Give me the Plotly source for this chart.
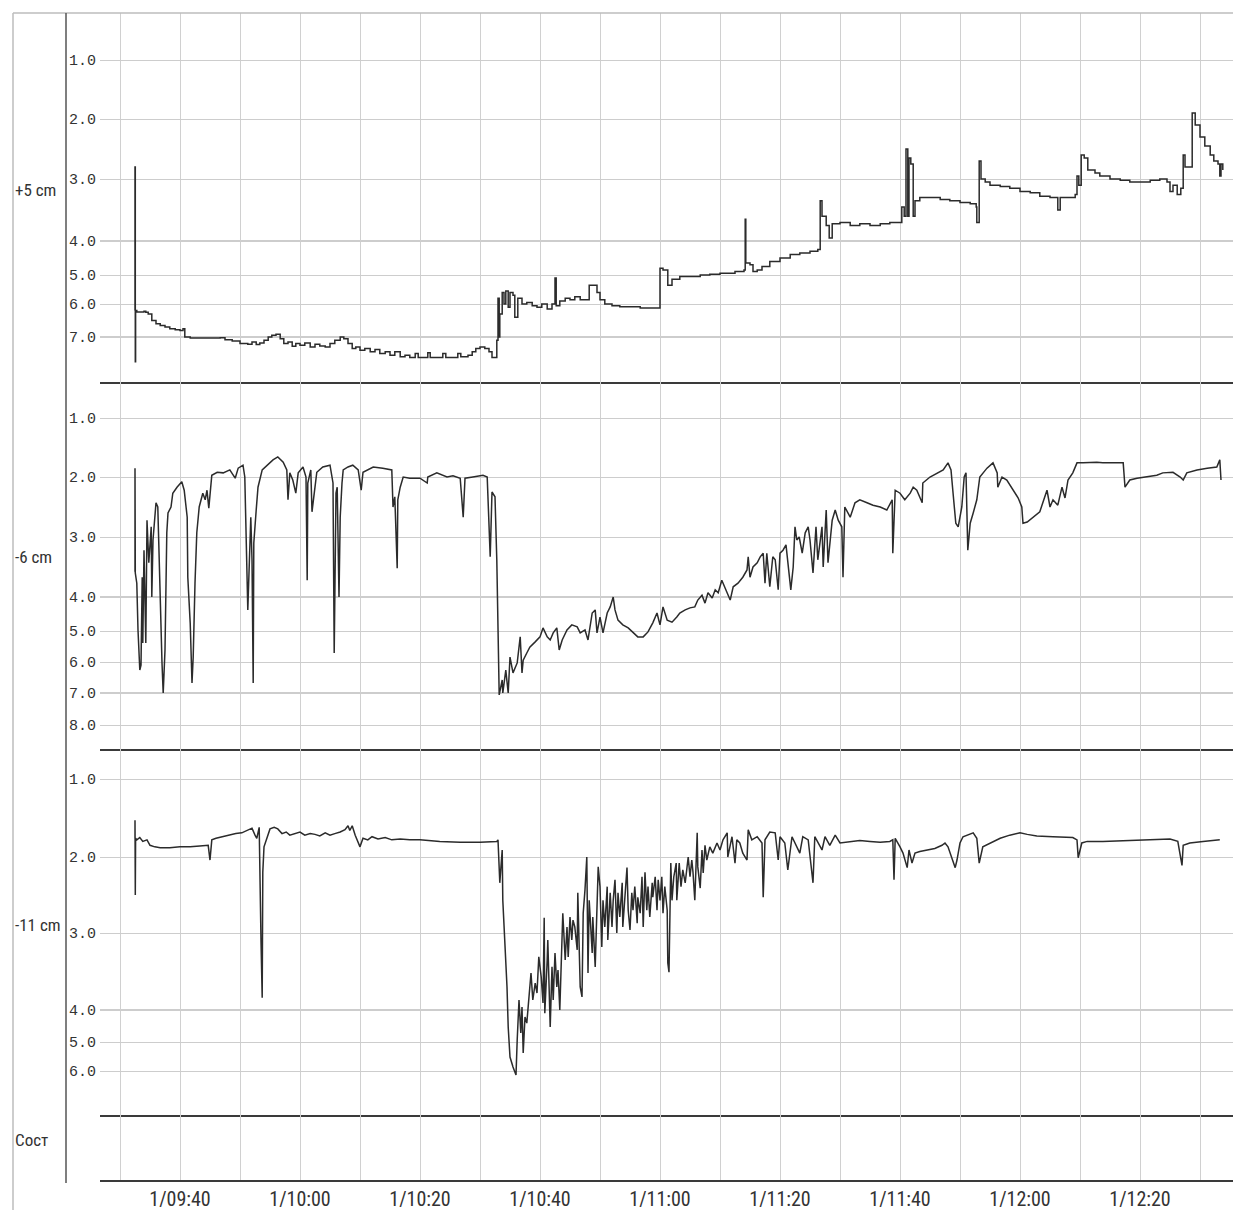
import numpy as np
import plotly.graph_objects as go
from plotly.subplots import make_subplots

# time in minutes after 09:00 (day 1)
tick_min = [40, 60, 80, 100, 120, 140, 160, 180, 200]
tick_labels = ['1/09:40', '1/10:00', '1/10:20', '1/10:40', '1/11:00',
               '1/11:20', '1/11:40', '1/12:00', '1/12:20']

panel_names = ['+5 cm', '-6 cm', '-11 cm', 'Сост']

# ---- +5 cm ----
t_top = [32.5, 32.5, 32.55, 32.6, 32.8, 34.0, 34.3, 34.7, 35.3, 36.0, 36.7, 37.5, 38.3, 39.2, 40.0, 40.5, 40.8, 41.7,
         44.2, 46.7, 47.5, 48.7, 50.0, 51.3, 52.0, 52.7, 53.3, 54.0, 54.7, 55.3, 56.0, 56.7, 57.3, 58.0, 58.7, 59.3,
         60.0, 60.8, 61.7, 62.5, 63.3, 64.2, 65.0, 65.8, 66.7, 67.3, 68.0, 68.7, 69.3, 70.0, 70.8, 71.7, 72.5, 73.3,
         74.2, 75.0, 75.8, 76.7, 77.5, 78.3, 79.2, 79.7, 80.8, 81.3, 81.7, 83.3, 83.8, 84.3, 85.8, 86.3, 86.8, 88.0,
         88.7, 89.3, 90.0, 90.8, 91.5, 92.0, 92.5, 92.8, 93.0, 93.2, 93.3, 93.7, 94.0, 94.3, 94.7, 95.0, 95.5, 95.8,
         96.3, 97.0, 97.8, 98.7, 99.5, 100.3, 101.2, 102.0, 102.5, 102.7, 103.3, 104.2, 105.0, 105.8, 106.7, 107.7,
         108.2, 109.0, 109.5, 110.0, 110.8, 112.0, 113.3, 115.0, 116.7, 119.8, 120.0, 120.5, 121.0, 121.3, 122.0,
         123.3, 125.0, 126.7, 128.3, 130.0, 132.5, 134.0, 134.2, 134.3, 135.0, 135.5, 136.2, 137.0, 138.3, 140.0,
         141.7, 143.3, 145.0, 146.3, 146.7, 147.0, 147.7, 148.2, 148.7, 150.0, 151.7, 153.3, 155.0, 156.7, 158.3,
         160.0, 160.3, 160.7, 161.0, 161.3, 161.5, 161.8, 162.2, 162.5, 163.3, 165.0, 166.7, 168.3, 170.0, 171.7,
         172.7, 172.8, 173.2, 173.5, 174.2, 175.0, 176.7, 178.3, 180.0, 181.7, 183.3, 185.0, 186.3, 186.7, 188.3,
         189.2, 189.5, 189.8, 190.2, 190.7, 191.3, 192.5, 193.3, 195.0, 196.7, 198.3, 200.0, 201.7, 203.3, 204.5,
         205.0, 205.5, 206.2, 206.8, 207.2, 207.5, 208.5, 208.7, 209.2, 210.0, 210.8, 211.7, 212.3, 213.0, 213.3,
         213.5, 213.8]
v_top = [6.2, 2.8, 7.75, 6.2, 6.24, 6.22, 6.25, 6.3, 6.5, 6.6, 6.65, 6.7, 6.75, 6.78, 6.8, 6.75, 7.0, 7.03,
         7.03, 7.02, 7.08, 7.12, 7.2, 7.22, 7.15, 7.23, 7.18, 7.1, 7.0, 6.95, 6.92, 7.05, 7.2, 7.15, 7.28, 7.2,
         7.25, 7.18, 7.3, 7.22, 7.27, 7.3, 7.2, 7.1, 7.0, 7.05, 7.2, 7.35, 7.3, 7.4, 7.35, 7.45, 7.38, 7.5,
         7.45, 7.55, 7.45, 7.6, 7.55, 7.62, 7.5, 7.62, 7.62, 7.48, 7.62, 7.62, 7.5, 7.62, 7.62, 7.5, 7.6, 7.55,
         7.45, 7.35, 7.3, 7.35, 7.45, 7.62, 7.62, 7.1, 5.8, 7.0, 6.3, 5.6, 6.0, 5.55, 6.1, 5.6, 5.7, 6.4,
         5.8, 6.0, 5.95, 6.05, 6.1, 6.0, 6.15, 6.0, 5.1, 6.05, 5.9, 5.8, 5.85, 5.75, 5.85, 5.85,
         5.35, 5.35, 5.6, 5.85, 6.0, 6.05, 6.08, 6.08, 6.12, 6.12, 4.8, 4.85, 4.85, 5.35, 5.15,
         5.05, 5.05, 5.0, 4.98, 4.95, 4.9, 4.85, 3.65, 4.65, 4.7, 4.9, 4.85, 4.75, 4.6, 4.5,
         4.4, 4.35, 4.3, 4.25, 3.35, 3.6, 3.75, 3.95, 3.72, 3.7, 3.75, 3.72, 3.75, 3.72, 3.7,
         3.7, 3.45, 3.6, 2.5, 3.6, 2.65, 2.75, 3.6, 3.35, 3.3, 3.3, 3.33, 3.35, 3.38, 3.4,
         3.45, 3.7, 2.7, 3.0, 3.05, 3.1, 3.12, 3.15, 3.2, 3.22, 3.28, 3.3, 3.5, 3.3, 3.3,
         3.25, 2.95, 3.1, 2.6, 2.65, 2.85, 2.9, 2.95, 3.0, 3.02, 3.05, 3.05, 3.02, 3.0, 3.05,
         3.2, 3.1, 3.25, 3.15, 2.6, 2.8, 2.8, 1.9, 2.1, 2.3, 2.45, 2.6, 2.7, 2.75, 2.95,
         2.75, 2.85]

# ---- -6 cm ----
t_mid = [32.5, 32.5, 32.55, 32.8, 33.0, 33.3, 33.5, 33.7, 33.8, 34.0, 34.3, 34.5, 34.8, 35.2, 35.3, 35.5, 35.7,
         36.0, 36.3, 36.5, 36.8, 37.0, 37.2, 37.5, 37.8, 38.0, 38.5, 38.8, 39.5, 40.3, 40.7, 41.2, 41.3, 41.7,
         42.0, 42.2, 42.5, 42.8, 43.2, 43.8, 44.2, 44.5, 44.8, 45.3, 46.2, 47.2, 48.3, 49.2, 49.7, 50.5, 50.8,
         51.2, 51.3, 51.8, 52.0, 52.2, 52.3, 52.7, 53.0, 53.7, 54.5, 55.5, 56.3, 57.2, 57.8, 58.0, 58.3, 58.8,
         59.3, 59.7, 60.5, 61.0, 61.2, 61.3, 61.8, 62.0, 62.3, 62.8, 63.8, 65.0, 65.5, 65.7, 66.0, 66.2, 66.5,
         66.7, 67.0, 67.2, 68.0, 68.8, 69.7, 70.2, 70.5, 72.2, 73.8, 75.3, 75.5, 75.8, 76.2, 76.3, 76.7, 77.2,
         78.3, 80.0, 81.2, 81.3, 82.8, 84.5, 85.5, 86.7, 87.2, 87.5, 88.8, 90.5, 91.2, 91.3, 91.7, 92.0, 92.5,
         92.8, 93.0, 93.2, 93.7, 93.8, 94.3, 94.7, 95.0, 95.5, 96.2, 96.7, 97.0, 97.2, 97.8, 98.3, 99.2, 100.0,
         100.5, 101.2, 101.7, 102.2, 102.8, 103.2, 103.7, 104.5, 105.3, 106.2, 106.7, 107.5, 108.0, 108.7,
         109.2, 109.5, 110.0, 110.5, 111.2, 111.7, 112.2, 112.5, 113.0, 113.8, 114.7, 115.5, 116.3, 117.2,
         118.0, 118.8, 119.5, 120.0, 120.5, 121.2, 122.0, 122.8, 123.3, 124.2, 125.0, 125.8, 126.3, 127.0,
         127.5, 128.0, 128.7, 129.2, 129.7, 130.3, 130.8, 131.3, 131.7, 132.2, 133.0, 133.8, 134.5, 134.7,
         135.0, 135.5, 136.2, 136.7, 137.2, 137.5, 137.8, 138.3, 138.8, 139.2, 139.7, 140.0, 140.5, 141.0,
         141.3, 141.8, 142.2, 142.5, 142.8, 143.2, 143.7, 144.2, 144.7, 145.0, 145.5, 146.0, 146.3, 147.0,
         147.2, 147.7, 148.0, 148.7, 149.2, 149.7, 150.3, 150.5, 150.8, 151.7, 152.5, 153.3, 154.5, 155.5,
         156.7, 157.8, 158.7, 158.8, 159.2, 160.0, 160.8, 161.7, 162.2, 162.8, 163.7, 163.8, 165.0, 166.2,
         167.2, 168.0, 168.5, 168.8, 169.3, 169.7, 170.3, 170.7, 171.0, 171.3, 171.7, 172.2, 172.8, 173.3,
         174.5, 175.5, 176.2, 176.3, 177.0, 177.8, 178.8, 179.7, 180.3, 180.5, 181.2, 182.2, 183.3, 183.8,
         184.5, 185.0, 185.5, 186.3, 187.0, 187.5, 188.0, 188.8, 189.5, 190.5, 191.7, 192.8, 193.8, 195.5,
         197.2, 197.5, 198.3, 199.5, 201.2, 202.8, 203.8, 205.5, 206.7, 207.2, 207.8, 209.5, 211.2, 212.8,
         213.3, 213.5]
v_mid = [3.58, 1.85, 3.6, 3.77, 4.97, 6.26, 6.1, 3.67, 5.39, 3.22, 5.39, 2.72, 3.43, 2.83, 4.0, 3.05, 2.77,
         2.43, 2.5, 3.33, 4.76, 6.03, 7.0, 5.61, 2.93, 2.6, 2.5, 2.27, 2.17, 2.08, 2.22, 2.67, 3.67, 4.76,
         6.68, 5.84, 3.77, 2.93, 2.5, 2.27, 2.38, 2.22, 2.52, 1.97, 1.92, 1.93, 1.88, 2.02, 1.85, 1.8, 2.0,
         3.55, 4.38, 2.67, 3.38, 6.68, 3.1, 2.55, 2.17, 1.88, 1.8, 1.71, 1.66, 1.75, 1.88, 2.38, 1.93, 2.05,
         2.27, 1.93, 1.83, 2.0, 3.72, 2.1, 1.88, 2.58, 2.33, 1.92, 1.83, 1.8, 2.1, 5.71, 2.27, 2.17, 4.0,
         2.67, 2.1, 1.88, 1.83, 1.8, 1.88, 2.22, 1.92, 1.83, 1.85, 1.88, 2.5, 2.33, 3.52, 2.38, 2.17, 2.0,
         2.02, 2.02, 2.1, 2.0, 1.93, 2.0, 1.98, 2.02, 2.67, 2.02, 2.0, 1.97, 2.0, 2.22, 3.33, 2.25, 2.33,
         3.38, 5.61, 7.06, 6.58, 7.0, 6.26, 7.0, 5.84, 6.35, 6.03, 5.19, 6.35, 5.94, 5.71, 5.52, 5.35, 5.19,
         4.91, 5.19, 5.29, 5.06, 4.91, 5.61, 5.29, 4.97, 4.82, 4.88, 5.06, 4.97, 5.29, 4.47,
         4.38, 5.06, 4.59, 5.06, 4.47, 4.29, 4.0, 4.38, 4.68, 4.82, 4.91, 5.06, 5.19, 5.19,
         5.03, 4.76, 4.47, 4.82, 4.29, 4.68, 4.74, 4.59, 4.47, 4.38, 4.32, 4.29, 4.09, 3.97,
         4.18, 3.93, 4.03, 3.88, 3.93, 3.72, 3.83, 3.97, 4.09, 3.83, 3.77, 3.67, 3.55, 3.33,
         3.67, 3.5, 3.43, 3.33, 3.27, 3.77, 3.27, 3.83, 3.33, 3.38, 3.88, 3.27, 3.22, 3.13,
         3.43, 3.88, 3.5, 2.83, 3.05, 3.0, 3.27, 2.93, 2.83, 3.05, 3.6, 2.83, 3.38, 2.83,
         3.5, 2.55, 3.43, 2.72, 2.55, 2.72, 2.83, 3.67, 2.5, 2.67, 2.43, 2.38, 2.43, 2.47,
         2.5, 2.55, 2.38, 3.27, 2.22, 2.27, 2.38, 2.27, 2.17, 2.22, 2.43, 2.1, 2.0, 1.93,
         1.88, 1.76, 1.88, 2.22, 2.77, 2.83, 2.5, 2.0, 1.93, 3.22, 2.77, 2.6, 2.38, 2.0,
         1.85, 1.76, 1.93, 2.17, 2.0, 2.05, 2.22, 2.35, 2.5, 2.77, 2.75, 2.67, 2.58, 2.43,
         2.22, 2.5, 2.38, 2.47, 2.17, 2.35, 2.05, 1.93, 1.76, 1.76, 1.75, 1.75, 1.76, 1.76,
         1.76, 2.17, 2.05, 2.02, 2.0, 1.97, 1.93, 1.92, 2.0, 2.05, 1.93, 1.88, 1.85, 1.83,
         1.71, 2.05]

# ---- -11 cm ----
t_bot = [32.5, 32.5, 32.55, 32.6, 32.8, 33.3, 33.8, 34.5, 35.0, 35.8, 36.7, 38.3, 40.0, 41.7, 43.3, 44.7, 45.0,
         45.3, 46.0, 47.0, 48.3, 49.3, 50.3, 51.3, 52.0, 52.5, 52.8, 53.2, 53.3, 53.5, 53.7, 53.8, 54.0, 54.5,
         55.0, 55.7, 56.3, 57.0, 57.7, 58.3, 59.2, 60.0, 60.8, 61.7, 62.5, 63.3, 64.2, 65.0, 65.8, 66.7, 67.5,
         68.0, 68.3, 68.7, 69.2, 69.7, 70.0, 70.5, 71.3, 72.0, 73.0, 74.2, 75.3, 76.7, 78.3, 80.0, 83.3, 86.7,
         90.0, 92.8, 93.0, 93.3, 93.7, 93.8, 94.2, 94.5, 94.7, 95.0, 95.5, 96.0, 96.2, 96.5, 96.8, 97.0, 97.2,
         97.5, 97.8, 98.2, 98.5, 98.8, 99.2, 99.5, 99.8, 100.2, 100.5, 100.7, 100.8, 101.2, 101.3, 101.7,
         102.0, 102.2, 102.5, 102.8, 103.0, 103.3, 103.7, 103.8, 104.2, 104.5, 104.7, 105.0, 105.3, 105.5,
         105.8, 106.2, 106.3, 106.7, 107.0, 107.2, 107.5, 107.8, 108.0, 108.2, 108.7, 108.8, 109.2, 109.5,
         109.7, 110.0, 110.3, 110.5, 110.8, 111.2, 111.3, 111.7, 112.0, 112.2, 112.5, 112.8, 113.0, 113.3,
         113.7, 113.8, 114.2, 114.5, 114.7, 115.0, 115.3, 115.5, 115.8, 116.2, 116.3, 116.7, 117.0, 117.2,
         117.5, 117.8, 118.0, 118.3, 118.7, 118.8, 119.2, 119.5, 119.7, 120.0, 120.3, 120.5, 120.8, 121.2,
         121.3, 121.5, 121.8, 122.0, 122.3, 122.7, 122.8, 123.2, 123.5, 123.8, 124.2, 124.5, 124.7, 125.0,
         125.3, 125.5, 125.8, 126.2, 126.3, 126.7, 127.0, 127.2, 127.5, 127.8, 128.3, 128.8, 129.5, 130.0,
         130.5, 131.2, 131.3, 132.0, 132.5, 132.8, 133.3, 133.8, 134.5, 134.7, 135.3, 136.2, 137.0, 137.2,
         137.5, 138.3, 139.2, 139.7, 140.0, 140.8, 141.3, 142.0, 142.8, 143.3, 143.8, 144.7, 145.5, 145.8,
         147.0, 147.5, 148.3, 149.2, 150.0, 151.7, 153.3, 155.0, 156.7, 158.3, 158.8, 159.0, 159.2, 160.0,
         160.5, 161.2, 161.5, 162.0, 162.5, 163.3, 164.5, 165.8, 167.0, 167.5, 168.0, 168.7, 169.2, 169.5,
         170.0, 170.5, 171.3, 172.2, 172.8, 173.2, 173.8, 175.0, 176.7, 178.3, 180.0, 181.2, 182.8, 185.5,
         188.8, 189.5, 189.7, 190.3, 191.2, 193.8, 196.7, 199.5, 202.2, 205.0, 206.3, 207.0, 207.2, 208.3,
         210.5, 212.2, 213.3]
v_bot = [1.76, 1.53, 2.5, 1.76, 1.78, 1.75, 1.8, 1.78, 1.85, 1.87, 1.88, 1.88, 1.87, 1.87, 1.86, 1.85, 2.04,
         1.78, 1.76, 1.74, 1.72, 1.7, 1.69, 1.66, 1.63, 1.72, 1.76, 1.62, 2.3, 3.1, 3.84, 2.2, 1.87, 1.74,
         1.64, 1.62, 1.64, 1.7, 1.68, 1.72, 1.7, 1.68, 1.72, 1.7, 1.71, 1.73, 1.69, 1.72, 1.7, 1.68, 1.65,
         1.6, 1.66, 1.6, 1.72, 1.8, 1.87, 1.76, 1.78, 1.74, 1.77, 1.75, 1.78, 1.77, 1.78, 1.78, 1.8, 1.81,
         1.81, 1.8, 1.78, 2.34, 1.91, 2.57, 3.13, 3.7, 4.53, 5.52, 5.86, 6.14, 4.94, 3.87, 4.72, 3.96, 5.38,
         4.22, 4.41, 3.78, 3.52, 3.87, 3.65, 3.78, 3.31, 3.57, 3.91, 2.8, 4.1, 3.35, 3.09, 4.53,
         3.44, 3.87, 3.26, 3.7, 3.48, 4.0, 3.0, 2.74, 3.35, 2.92, 3.31, 2.79, 3.09, 2.83,
         2.92, 3.22, 2.47, 3.7, 3.83, 2.74, 2.43, 2.0, 3.52, 2.57, 3.26, 2.79, 3.44, 2.57,
         2.13, 2.39, 3.18, 2.57, 2.92, 2.39, 3.09, 2.47, 2.92, 2.57, 2.3, 3.0, 2.47, 2.79,
         2.34, 2.92, 2.53, 2.14, 2.7, 2.96, 2.47, 2.7, 2.39, 2.87, 2.53, 2.74, 2.26, 2.92,
         2.2, 2.7, 2.39, 2.79, 2.34, 2.53, 2.26, 2.7, 2.3, 2.57, 2.26, 2.74, 2.39, 2.7,
         3.39, 3.51, 2.08, 2.57, 2.26, 2.08, 2.57, 2.08, 2.39, 2.17, 2.34, 2.13, 2.0, 2.26,
         2.04, 2.2, 2.57, 1.69, 2.13, 2.41, 1.91, 2.21, 1.85, 2.04, 1.87, 1.95, 1.82, 1.91,
         1.78, 1.69, 2.0, 1.74, 2.08, 1.78, 1.82, 1.95, 2.04, 1.65, 1.78, 1.74, 1.82, 2.53,
         1.78, 1.68, 1.69, 2.04, 1.74, 1.82, 2.17, 1.74, 1.87, 1.95, 1.74, 1.78, 2.34, 1.74,
         1.91, 1.74, 1.85, 1.72, 1.82, 1.8, 1.79, 1.8, 1.81, 1.8, 1.78, 2.3, 1.76, 1.87,
         1.95, 2.14, 1.91, 2.08, 1.95, 1.93, 1.91, 1.89, 1.85, 1.82, 1.87, 2.02, 2.14, 2.04,
         1.82, 1.74, 1.72, 1.69, 1.76, 2.08, 1.87, 1.82, 1.76, 1.72, 1.69, 1.71, 1.73, 1.74,
         1.75, 1.78, 2.01, 1.82, 1.8, 1.8, 1.79, 1.78, 1.78, 1.77, 1.8, 2.11, 1.85, 1.82,
         1.8, 1.79, 1.78]

for a, b in [(t_top, v_top), (t_mid, v_mid), (t_bot, v_bot)]:
    assert len(a) == len(b), (len(a), len(b))

# the recorder's value scale is not linear: tick value -> position inside each panel
# (last entry of each scale only extends it past the lowest labelled tick)
scale_vals = [[1, 2, 3, 4, 5, 6, 7, 8],
              [1, 2, 3, 4, 5, 6, 7, 8],
              [1, 2, 3, 4, 5, 6, 7]]
scale_pos = [[47, 106, 166, 228, 262, 291, 324, 357],
             [36, 95, 155, 215, 249, 280, 311, 343],
             [30, 108, 184, 261, 293, 322, 351]]
n_labels = [7, 8, 6]
panel_h = [369, 367, 366, 65]
line_shapes = ['hv', 'linear', 'linear']

fig = make_subplots(rows=4, cols=1, shared_xaxes=True, vertical_spacing=0,
                    row_heights=panel_h)

mono = 'Liberation Mono, DejaVu Sans Mono, monospace'
narrow = 'Liberation Sans Narrow, Roboto Condensed, DejaVu Sans Condensed, Roboto, sans-serif'

series = [(t_top, v_top), (t_mid, v_mid), (t_bot, v_bot)]
for i, (t, v) in enumerate(series):
    y = np.interp(v, scale_vals[i], scale_pos[i])
    fig.add_trace(go.Scatter(x=t, y=y, mode='lines',
                             line=dict(color='#2b2b2b', width=1.5, shape=line_shapes[i])),
                  row=i + 1, col=1)
    n = n_labels[i]
    fig.update_yaxes(range=[panel_h[i], 0], tickmode='array',
                     tickvals=scale_pos[i][:n],
                     ticktext=['%.1f' % s for s in scale_vals[i][:n]],
                     showgrid=True, gridcolor='#cdcdcd', gridwidth=1,
                     zeroline=False, ticks='', ticklabelstandoff=3,
                     tickfont=dict(family=mono, size=15, color='#333'),
                     row=i + 1, col=1)
    # darker rules at 4.0 and 7.0
    for k in (4, 7):
        if k <= scale_vals[i][n - 1]:
            fig.add_hline(y=scale_pos[i][scale_vals[i].index(k)],
                          line=dict(color='#9c9c9c', width=1.2),
                          layer='below', row=i + 1, col=1)

# empty state strip
fig.add_trace(go.Scatter(x=[], y=[], mode='lines', hoverinfo='skip'), row=4, col=1)
fig.update_yaxes(range=[panel_h[3], 0], showticklabels=False, showgrid=False,
                 zeroline=False, row=4, col=1)

grid_min = list(range(30, 220, 10))
grid_txt = [tick_labels[tick_min.index(m)] if m in tick_min else '' for m in grid_min]

fig.update_xaxes(range=[30 - 20 / 6, 30 + 1113 / 6], tickmode='array',
                 tickvals=grid_min, ticktext=grid_txt,
                 showgrid=True, gridcolor='#d0d0d0', gridwidth=1,
                 showline=True, linecolor='#3a3a3a', linewidth=2,
                 zeroline=False, ticks='', showticklabels=False)
fig.update_xaxes(showticklabels=True,
                 tickfont=dict(family=narrow, size=20, color='#333'),
                 row=4, col=1)

# frame and left axis rule
fig.add_shape(type='line', xref='paper', yref='paper', x0=-87 / 1133, x1=1, y0=1, y1=1,
              line=dict(color='#bdbdbd', width=1.5))
fig.add_shape(type='line', xref='paper', yref='paper', x0=-87 / 1133, x1=-87 / 1133,
              y0=1, y1=-30 / 1167, line=dict(color='#bdbdbd', width=1.5))
fig.add_shape(type='line', xref='paper', yref='paper', x0=-34 / 1133, x1=-34 / 1133,
              y0=1, y1=-3 / 1167, line=dict(color='#555', width=1.5))

name_y = [0.52, 0.523, 0.519, 0.615]
for i, name in enumerate(panel_names):
    fig.add_annotation(text=name, xref='paper', x=-87 / 1133, xanchor='left',
                       yref='y%s domain' % ('' if i == 0 else i + 1), y=name_y[i],
                       yanchor='middle', showarrow=False,
                       font=dict(family=narrow, size=17, color='#333'))

fig.update_layout(width=1233, height=1210, showlegend=False,
                  margin=dict(l=100, r=0, t=13, b=30),
                  plot_bgcolor='white', paper_bgcolor='white')

fig.write_html("out.html", config={'displayModeBar': False},
               post_script="document.body.style.margin='0';")
